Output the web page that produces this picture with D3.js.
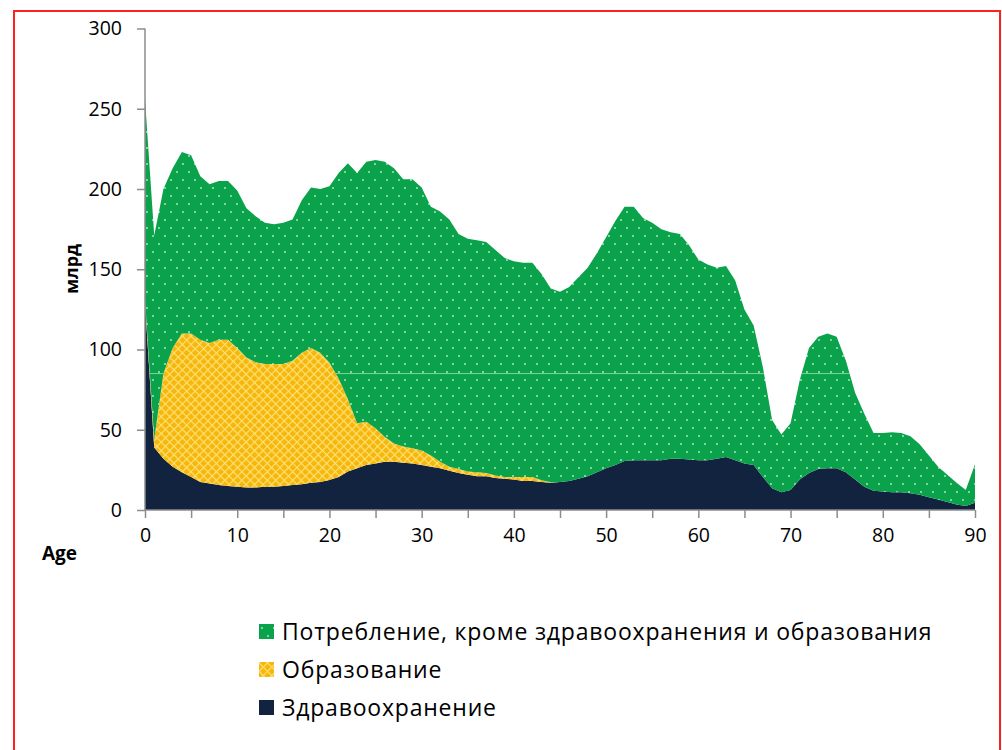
<!DOCTYPE html>
<html>
<head>
<meta charset="utf-8">
<script src="https://cdnjs.cloudflare.com/ajax/libs/d3/7.8.5/d3.min.js"></script>
<style>
  body { margin: 0; background: #fff; }
  text { font-family: "Open Sans", "Noto Sans", sans-serif; fill: #000; }
</style>
</head>
<body>
<svg id="chart"></svg>
<script>
// ages 0..90 are the categories on the x axis
var ages = d3.range(0, 91);
// health care (bottom layer)
var health = [129, 39, 32, 27, 23.5, 20.5, 17.5, 16.5, 15.5, 15, 14.5, 14, 14, 14.5, 14.5, 15, 15.5, 16, 17, 17.5,
  18.7, 20.5, 24, 26, 28, 29, 30, 30, 29.5, 29, 28, 27, 26, 24.5, 23, 22, 21, 21, 20, 19.5,
  19, 18, 18, 17.5, 17, 17.5, 18, 19.5, 21, 23.5, 26, 28, 30.5, 31, 31, 31, 31, 32, 32, 31.5,
  31, 31, 32, 33, 31, 29, 28, 20.5, 13.5, 11, 12.5, 19, 23, 25.5, 26, 26, 23.5, 19, 14.5, 12,
  11.5, 11, 11, 10.5, 9.5, 8, 6.5, 5, 3.5, 2.5, 4.5];
// education (middle layer)
var education = [2, 5, 53, 74, 86.5, 89.5, 88.5, 87.5, 90.5, 91, 86.5, 81, 78, 76.5, 76.5, 76, 77.5, 82, 84, 80.5,
  73, 61.5, 45, 28, 27, 22, 15.5, 11.5, 10, 9.5, 9, 7, 4, 2.5, 2.5, 2, 2.5, 2, 1.5, 1,
  1.5, 2.5, 2.5, 1, 0.3, 0, 0, 0, 0, 0, 0, 0, 0, 0, 0, 0, 0, 0, 0, 0,
  0, 0, 0, 0, 0, 0, 0, 0, 0, 0, 0, 0, 0, 0, 0, 0, 0, 0, 0, 0,
  0, 0, 0, 0, 0, 0, 0, 0, 0, 0, 0];
// consumption except health and education (top layer)
var consumption = [125, 127, 115, 112, 113, 111, 102, 99, 99, 99, 98, 93, 91, 88, 87, 88, 88, 95, 100, 102,
  110, 128, 147, 156, 162, 167, 171.5, 171.5, 166.5, 167.5, 164, 155, 156, 154, 146.5, 145, 144.5, 144, 140.5, 136.5,
  134.5, 133.5, 133.5, 128.5, 120.7, 118.5, 121, 125.5, 130, 136.5, 144, 152, 158.5, 158, 151, 148, 144, 141, 140, 133.5,
  125, 122, 119, 119, 112, 96, 87, 68.5, 42.5, 36, 41.5, 62, 78, 82.5, 84, 82, 69.5, 54, 45.5, 36,
  36.5, 37.5, 37, 35.5, 31.5, 26, 20.5, 17, 13.5, 10, 24];

var seriesKeys = ["health", "education", "consumption"];
var seriesNames = ["Потребление, кроме здравоохранения и образования", "Образование", "Здравоохранение"];
var legendKeys = ["consumption", "education", "health"];
var yTicks = [0, 50, 100, 150, 200, 250, 300];
var xTicks = [0, 10, 20, 30, 40, 50, 60, 70, 80, 90];

var width = 1002;
var height = 750;

// table for d3.stack
var rows = ages.map(function (a, i) {
  return { age: a, health: health[i], education: education[i], consumption: consumption[i] };
});

var svg = d3.select("#chart").attr("width", width).attr("height", height);

// patterns: dotted green, crosshatched yellow
var defs = svg.append("defs");
var pg = defs.append("pattern")
  .attr("id", "dots")
  .attr("patternUnits", "userSpaceOnUse")
  .attr("width", 12)
  .attr("height", 16);
pg.append("rect").attr("width", 12).attr("height", 16).attr("fill", "#0aa34b");
pg.append("circle").attr("cx", 3).attr("cy", 4).attr("r", 0.9).attr("fill", "#b9ecc9");
pg.append("circle").attr("cx", 9).attr("cy", 12).attr("r", 0.9).attr("fill", "#b9ecc9");

var py = defs.append("pattern")
  .attr("id", "hatch")
  .attr("patternUnits", "userSpaceOnUse")
  .attr("width", 6)
  .attr("height", 6)
  .attr("patternTransform", "rotate(45)");
py.append("rect").attr("width", 6).attr("height", 6).attr("fill", "#f6b60a");
py.append("line").attr("x1", 0).attr("y1", 0.5).attr("x2", 6).attr("y2", 0.5)
  .attr("stroke", "#fde174").attr("stroke-width", 1.4);
py.append("line").attr("x1", 0.5).attr("y1", 0).attr("x2", 0.5).attr("y2", 6)
  .attr("stroke", "#fde174").attr("stroke-width", 1.4);

var fills = { health: "#12233f", education: "url(#hatch)", consumption: "url(#dots)" };

// red frame round the picture
svg.append("rect")
  .attr("x", 14).attr("y", 11)
  .attr("width", 986).attr("height", 800)
  .attr("fill", "none")
  .attr("stroke", "#ff2020")
  .attr("stroke-width", 2);

var x = d3.scaleLinear().domain([0, 90]).range([145, 975]);
var y = d3.scaleLinear().domain([0, 300]).range([510, 28.5]);

var stacked = d3.stack().keys(seriesKeys)(rows);

var area = d3.area()
  .x(function (d) { return x(d.data.age); })
  .y0(function (d) { return y(d[0]); })
  .y1(function (d) { return y(d[1]); });

svg.append("g")
  .selectAll("path")
  .data(stacked)
  .enter()
  .append("path")
  .attr("d", area)
  .attr("fill", function (d) { return fills[d.key]; });

// faint light line that runs through the green layer
defs.append("clipPath").attr("id", "greenClip")
  .append("path").attr("d", area(stacked[2]));
svg.append("line")
  .attr("clip-path", "url(#greenClip)")
  .attr("x1", x(0)).attr("x2", x(90))
  .attr("y1", y(85)).attr("y2", y(85))
  .attr("stroke", "#7fd39c")
  .attr("stroke-width", 1);

// y axis
var yAxis = svg.append("g")
  .attr("transform", "translate(" + x(0) + ",0)")
  .call(d3.axisLeft(y).tickValues(yTicks).tickSize(8).tickPadding(15));
// x axis, minor ticks every 5 years
var xAxis = svg.append("g")
  .attr("transform", "translate(0," + y(0) + ")")
  .call(d3.axisBottom(x).tickValues(d3.range(0, 91, 5)).tickSize(8).tickPadding(10)
    .tickFormat(function (d) { return xTicks.indexOf(d) > -1 ? d : ""; }));

[xAxis, yAxis].forEach(function (g) {
  g.selectAll("path").attr("stroke", "#8c8c8c").attr("stroke-width", 1.5);
  g.selectAll("line").attr("stroke", "#8c8c8c").attr("stroke-width", 1.5);
  g.selectAll("text").style("font-size", "19.5px").attr("fill", "#000");
});
xAxis.select(".domain").attr("d", "M" + x(0) + ",0H" + x(90));
yAxis.select(".domain").attr("d", "M0," + y(0) + "V" + y(300));

// axis titles
svg.append("text")
  .attr("transform", "translate(78,269) rotate(-90)")
  .attr("text-anchor", "middle")
  .style("font-size", "18px")
  .style("font-weight", "bold")
  .text("млрд");
svg.append("text")
  .attr("x", 42).attr("y", 560)
  .style("font-size", "19px")
  .style("font-weight", "bold")
  .text("Age");

// legend
var legend = svg.append("g")
  .selectAll("g")
  .data(legendKeys)
  .enter()
  .append("g")
  .attr("transform", function (d, i) { return "translate(259," + (624 + i * 38) + ")"; });
legend.append("rect")
  .attr("width", 15).attr("height", 15)
  .attr("fill", function (d) { return fills[d]; });
legend.append("text")
  .attr("x", 23).attr("y", 16)
  .style("font-size", "23px")
  .style("letter-spacing", "0.8px")
  .text(function (d) { return seriesNames[legendKeys.indexOf(d)]; });
</script>
</body>
</html>
